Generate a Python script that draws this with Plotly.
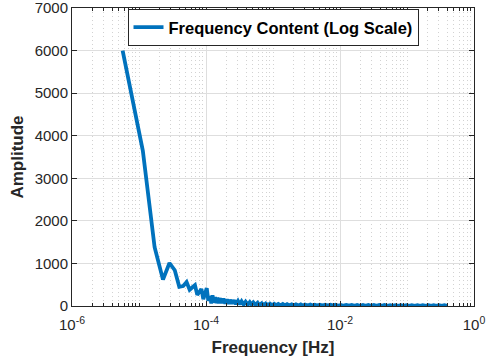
import plotly.graph_objects as go

# ---- data ----
freq_low = [5.7e-6, 1.14e-5, 1.71e-5, 2.28e-5, 2.85e-5, 3.42e-5, 3.99e-5, 4.56e-5,
            5.13e-5, 5.70e-5, 6.27e-5, 6.84e-5, 7.41e-5, 7.98e-5, 8.55e-5, 9.12e-5,
            9.69e-5, 1.026e-4, 1.083e-4]
amp_low = [6000, 3650, 1380, 620, 1010, 840, 450, 470,
           560, 380, 440, 490, 260, 330, 400, 160, 300, 420, 120]

freq_tail = [1.14e-4, 1.2e-4, 1.25e-4, 1.31e-4, 1.37e-4, 1.43e-4, 1.48e-4, 1.54e-4, 1.6e-4,
             1.71e-4, 1.82e-4, 1.94e-4, 2.05e-4, 2.17e-4, 2.28e-4, 2.45e-4, 2.62e-4, 2.8e-4,
             3.0e-4, 3.2e-4, 3.4e-4, 3.65e-4, 3.9e-4, 4.2e-4, 4.5e-4, 4.8e-4, 5.1e-4, 5.5e-4,
             5.9e-4, 6.3e-4, 6.8e-4, 7.3e-4, 7.8e-4, 8.4e-4, 9.0e-4, 9.7e-4, 1.04e-3, 1.12e-3,
             1.2e-3, 1.3e-3, 1.4e-3, 1.5e-3, 1.62e-3, 1.75e-3, 1.9e-3, 2.05e-3, 2.2e-3, 2.4e-3,
             2.6e-3, 2.8e-3, 3.0e-3, 3.3e-3, 3.6e-3, 3.9e-3, 4.2e-3, 4.6e-3, 5.0e-3, 5.5e-3,
             6.0e-3, 6.6e-3, 7.2e-3, 7.9e-3, 8.6e-3, 9.4e-3, 1.03e-2, 1.13e-2, 1.24e-2, 1.36e-2,
             1.5e-2, 1.65e-2, 1.8e-2, 2.0e-2, 2.2e-2, 2.4e-2, 2.65e-2, 2.9e-2, 3.2e-2, 3.5e-2,
             3.85e-2, 4.2e-2, 4.6e-2, 5.1e-2, 5.6e-2, 6.1e-2, 6.7e-2, 7.4e-2, 8.1e-2, 8.9e-2,
             9.8e-2, 0.108, 0.118, 0.13, 0.143, 0.157, 0.172, 0.19, 0.21, 0.23, 0.25, 0.275,
             0.3, 0.33, 0.36, 0.4, 0.44, 0.49]
amp_tail = [230, 60, 250, 80, 210, 70, 200, 60, 180,
            70, 170, 60, 155, 50, 145, 55, 135, 45,
            120, 40, 110, 35, 100, 30, 90, 30, 82, 25,
            74, 25, 66, 20, 60, 20, 55, 18, 52, 18,
            48, 15, 45, 15, 42, 12, 40, 12, 38, 10,
            36, 10, 34, 10, 32, 9, 31, 9, 30, 8,
            29, 8, 28, 8, 27, 7, 26, 7, 25, 7,
            25, 6, 24, 6, 24, 6, 23, 6, 23, 6,
            22, 5, 22, 5, 21, 5, 21, 5, 20, 5,
            20, 5, 20, 5, 19, 5, 19, 4, 19, 4,
            18, 4, 18, 4, 18, 4]

freq = freq_low + freq_tail
amp = amp_low + amp_tail

x_tick_vals = [1e-6, 1e-4, 1e-2, 1]
x_tick_text = ["10<sup>-6</sup>", "10<sup>-4</sup>", "10<sup>-2</sup>", "10<sup>0</sup>"]
y_tick_vals = [0, 1000, 2000, 3000, 4000, 5000, 6000, 7000]

FONT = "Liberation Sans, Arial, Helvetica, sans-serif"
AX = "#262626"

minor_vals = [m * 10.0 ** e for e in range(-6, 0) for m in range(1, 10)]

fig = go.Figure()
fig.add_trace(go.Scatter(
    x=freq, y=amp, mode="lines",
    name="<b>Frequency Content (Log Scale)</b>",
    line=dict(color="#0072BD", width=3.8),
))

fig.update_layout(
    width=486, height=362,
    margin=dict(l=72, r=12, t=8, b=56, autoexpand=False),
    paper_bgcolor="white", plot_bgcolor="white",
    font=dict(family=FONT, color=AX, size=15),
    showlegend=True,
    legend=dict(
        x=0.5, xanchor="center", y=0.997, yanchor="top",
        bgcolor="white", bordercolor=AX, borderwidth=1,
        font=dict(size=16.5, color="black"),
        itemwidth=30, tracegroupgap=0,
    ),
    xaxis=dict(
        type="log", range=[-6, 0], automargin=False, ticklabeloverflow="allow",
        tickmode="array", tickvals=x_tick_vals, ticktext=x_tick_text,
        ticks="inside", ticklen=5, tickcolor=AX, ticklabelstandoff=5,
        showline=True, linecolor=AX, linewidth=1, mirror="ticks",
        showgrid=True, gridcolor="#dedede", gridwidth=1,
        zeroline=False,
        minor=dict(tickmode="array", tickvals=minor_vals, ticks="inside", ticklen=3,
                   tickcolor=AX, showgrid=True, gridcolor="#d2d2d2", griddash="1px,3px",
                   gridwidth=1),
        title=dict(text="<b>Frequency [Hz]</b>", font=dict(size=17, color=AX), standoff=9),
        tickfont=dict(size=15, color=AX),
    ),
    yaxis=dict(
        range=[0, 7000], automargin=False, ticklabeloverflow="allow",
        tickmode="array", tickvals=y_tick_vals,
        ticks="inside", ticklen=5, tickcolor=AX,
        showline=True, linecolor=AX, linewidth=1, mirror="ticks",
        showgrid=True, gridcolor="#dedede", gridwidth=1,
        zeroline=False,
        title=dict(text="<b>Amplitude</b>", font=dict(size=17, color=AX), standoff=6),
        tickfont=dict(size=15, color=AX),
    ),
)

fig.write_html("out.html")
